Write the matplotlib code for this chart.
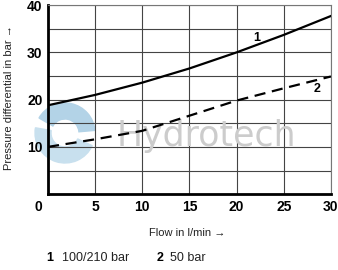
import matplotlib
matplotlib.use("Agg")
import matplotlib.pyplot as plt
from matplotlib.patches import Wedge

# Flow in l/min
flow = [0, 5, 10, 15, 20, 25, 30]
# Curve 1: 100/210 bar
dp_1 = [18.8, 21.0, 23.6, 26.6, 30.0, 33.7, 37.7]
# Curve 2: 50 bar
dp_2 = [10.0, 11.6, 13.4, 16.6, 19.8, 22.4, 24.9]

x_ticks = [0, 5, 10, 15, 20, 25, 30]
x_labels = ['', '5', '10', '15', '20', '25', '30']
y_ticks = [0, 5, 10, 15, 20, 25, 30, 35, 40]
y_labels = ['', '', '10', '', '20', '', '30', '', '40']

sans = ['Liberation Sans', 'DejaVu Sans']

fig = plt.figure(figsize=(3.38, 2.70), dpi=100)
ax = fig.add_axes([0.142, 0.281, 0.837, 0.70])
ax.patch.set_alpha(0)

ax.plot(flow, dp_1, color='black', lw=1.6, zorder=3)
ax.plot(flow, dp_2, color='black', lw=1.6, dashes=(5, 3), zorder=3)

ax.set_xlim(0, 30)
ax.set_ylim(0, 40)
ax.set_xticks(x_ticks)
ax.set_xticklabels(x_labels)
ax.set_yticks(y_ticks)
ax.set_yticklabels(y_labels)
ax.tick_params(length=0, labelsize=10, pad=4)
for lbl in ax.get_xticklabels() + ax.get_yticklabels():
    lbl.set_family(sans)
    lbl.set_fontweight('bold')
ax.grid(True, color='#444444', lw=0.8, zorder=1)
ax.set_axisbelow(True)

for side in ['top', 'right']:
    ax.spines[side].set_color('#777777')
    ax.spines[side].set_linewidth(0.8)
for side in ['left', 'bottom']:
    ax.spines[side].set_color('black')
    ax.spines[side].set_linewidth(2)

# shared corner zero
ax.text(-1.0, -1.3, '0', ha='center', va='top', fontsize=10,
        fontweight='bold', family=sans)

# watermark (logo behind the grid)
ax.text(16.8, 10.2, 'Hydrotech', ha='center', va='baseline', fontsize=25,
        color='#cccccc', family='DejaVu Sans', zorder=2)
for t1, t2, col in [(5, 150, '#b3d3e7'), (170, 335, '#c8e0ee')]:
    fig.patches.append(Wedge((0.65, 1.37), 0.30, t1, t2, width=0.16,
                             transform=fig.dpi_scale_trans,
                             color=col, zorder=-1))

# curve labels
ax.text(22.1, 33.0, '1', ha='center', va='center', fontsize=9,
        family=sans, fontweight='bold')
ax.text(28.5, 22.2, '2', ha='center', va='center', fontsize=9,
        family=sans, fontweight='bold')

fig.text(0.027, 0.64, 'Pressure differential in bar \u2192', rotation=90,
         ha='center', va='center', fontsize=8, family=sans, color='#222222')
fig.text(0.553, 0.137, 'Flow in l/min \u2192', ha='center', va='center',
         fontsize=8, family=sans, color='#222222')

fig.text(0.148, 0.044, '1', ha='center', va='center', fontsize=9,
         fontweight='bold', family=sans)
fig.text(0.183, 0.044, '100/210 bar', ha='left', va='center', fontsize=9,
         family=sans, color='#222222')
fig.text(0.473, 0.044, '2', ha='center', va='center', fontsize=9,
         fontweight='bold', family=sans)
fig.text(0.503, 0.044, '50 bar', ha='left', va='center', fontsize=9,
         family=sans, color='#222222')

fig.savefig('out.png', dpi=100)
